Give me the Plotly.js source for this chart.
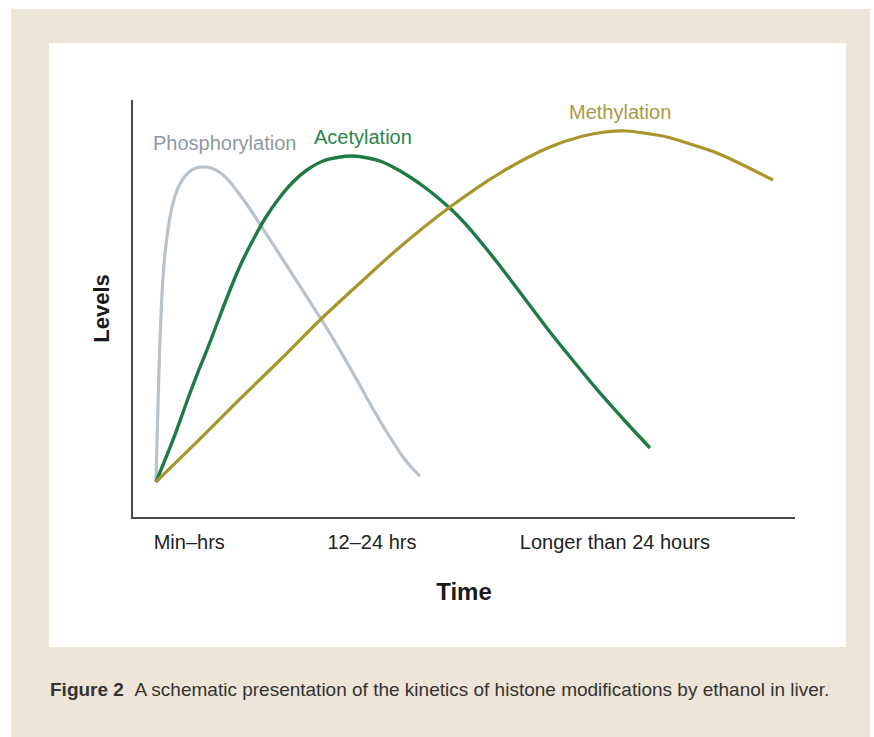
<!DOCTYPE html>
<html>
<head>
<meta charset="utf-8">
<script src="https://cdn.plot.ly/plotly-3.0.1.min.js"></script>
<style>
  html, body { margin:0; padding:0; background:#ffffff; width:874px; height:737px; overflow:hidden; }
  #beige { position:absolute; left:11px; top:9px; width:859px; height:728px; background:#ede5d8; }
  #panel { position:absolute; left:49px; top:43px; width:797px; height:604px; background:#ffffff; }
  #chart { position:absolute; left:0; top:0; width:874px; height:737px; }
</style>
</head>
<body>
<div id="beige"></div>
<div id="panel"></div>
<div id="chart"></div>
<script>
// Time axis positions (schematic units) and tick labels
const tickPositions = [8.5, 36.1, 72.8];
const tickLabels = ["Min–hrs", "12–24 hrs", "Longer than 24 hours"];

// Phosphorylation (schematic levels)
const phosX = [3.47, 3.63, 3.82, 4.00, 4.23, 4.53, 4.98, 5.59, 6.34, 7.25, 8.31, 9.52, 10.57, 11.78, 13.14, 14.65, 16.16, 17.98, 19.64, 21.60, 23.72, 25.98, 28.25, 30.36, 32.33, 34.29, 36.25, 38.52, 40.79, 42.15, 43.35];
const phosY = [8.39, 18.47, 29.26, 38.85, 48.44, 57.31, 65.23, 71.94, 76.98, 80.34, 82.49, 83.69, 83.93, 83.69, 82.61, 80.34, 77.22, 73.14, 69.06, 64.27, 59.11, 53.48, 47.84, 42.45, 37.05, 31.53, 25.90, 19.90, 14.39, 11.75, 9.83];

// Acetylation
const acetX = [3.47, 4.83, 6.04, 7.25, 8.61, 9.82, 11.18, 12.84, 14.65, 16.31, 18.13, 20.09, 22.21, 24.17, 26.28, 28.70, 31.27, 33.23, 35.50, 37.31, 39.27, 41.84, 44.11, 46.37, 48.64, 50.91, 53.17, 55.44, 59.21, 62.99, 66.77, 70.54, 74.32, 78.10];
const acetY = [8.39, 13.67, 18.47, 23.74, 29.74, 34.77, 40.05, 47.00, 54.44, 60.67, 66.43, 71.94, 76.74, 80.34, 83.21, 85.37, 86.33, 86.57, 86.09, 85.37, 83.93, 81.53, 79.02, 76.14, 72.90, 69.06, 64.75, 60.19, 52.28, 44.36, 36.93, 29.74, 23.02, 16.55];

// Methylation
const methX = [3.47, 10.12, 16.16, 22.21, 28.25, 34.29, 40.33, 47.89, 55.44, 62.99, 67.98, 71.30, 74.62, 78.10, 80.66, 84.14, 88.22, 92.45, 96.68];
const methY = [8.39, 18.71, 28.30, 37.65, 47.24, 56.12, 64.75, 74.34, 82.49, 88.73, 91.37, 92.33, 92.57, 91.85, 91.13, 89.45, 87.29, 84.17, 80.82];

const seriesNames = ["Phosphorylation", "Acetylation", "Methylation"];

const FONT = "'Liberation Sans Narrow', 'Arial Narrow', 'Liberation Sans', sans-serif";

const traces = [
  {x: phosX, y: phosY, name: seriesNames[0], mode: "lines",
   line: {color: "#b9c1c9", width: 3.2, shape: "spline", smoothing: 0.9}},
  {x: acetX, y: acetY, name: seriesNames[1], mode: "lines",
   line: {color: "#1f7b46", width: 3.4, shape: "spline", smoothing: 0.9}},
  {x: methX, y: methY, name: seriesNames[2], mode: "lines",
   line: {color: "#a8962a", width: 3.2, shape: "spline", smoothing: 0.9}}
];

const layout = {
  width: 874, height: 737,
  margin: {l: 133, r: 79, t: 100, b: 220},
  paper_bgcolor: "rgba(0,0,0,0)",
  plot_bgcolor: "rgba(0,0,0,0)",
  showlegend: false,
  font: {family: FONT, color: "#222222"},
  xaxis: {
    range: [0, 100], showgrid: false, zeroline: false,
    showline: true, linecolor: "#4a4a4a", linewidth: 2,
    ticks: "", tickvals: tickPositions, ticktext: tickLabels,
    tickfont: {family: FONT, size: 20, color: "#222222"},
    ticklabelstandoff: 6,
    title: {text: "<b>Time</b>", font: {family: FONT, size: 24, color: "#1a1a1a"}, standoff: 31},
    fixedrange: true
  },
  yaxis: {
    range: [0, 100], showgrid: false, zeroline: false,
    showline: true, linecolor: "#4a4a4a", linewidth: 2,
    ticks: "", showticklabels: false,
    title: {text: "<b>Levels</b>", font: {family: FONT, size: 22, color: "#1a1a1a"}, standoff: 15},
    fixedrange: true
  },
  annotations: [
    {x: 13.75, y: 89.7, xref: "x", yref: "y", text: seriesNames[0], showarrow: false,
     font: {family: FONT, size: 20, color: "#8f989f"}},
    {x: 34.8, y: 91.1, xref: "x", yref: "y", text: seriesNames[1], showarrow: false,
     font: {family: FONT, size: 20, color: "#2a8550"}},
    {x: 73.6, y: 97.1, xref: "x", yref: "y", text: seriesNames[2], showarrow: false,
     font: {family: FONT, size: 20, color: "#a89a45"}},
    {x: (48 - 133) / 662, y: (517 - 689) / 417, xref: "paper", yref: "paper",
     xanchor: "left", yanchor: "middle", showarrow: false,
     text: "<b>Figure 2</b>\u00a0\u00a0A schematic presentation of the kinetics of histone modifications by ethanol in liver.",
     font: {family: FONT, size: 19, color: "#333333"}}
  ]
};

Plotly.newPlot("chart", traces, layout, {displayModeBar: false, staticPlot: true});
</script>
</body>
</html>
